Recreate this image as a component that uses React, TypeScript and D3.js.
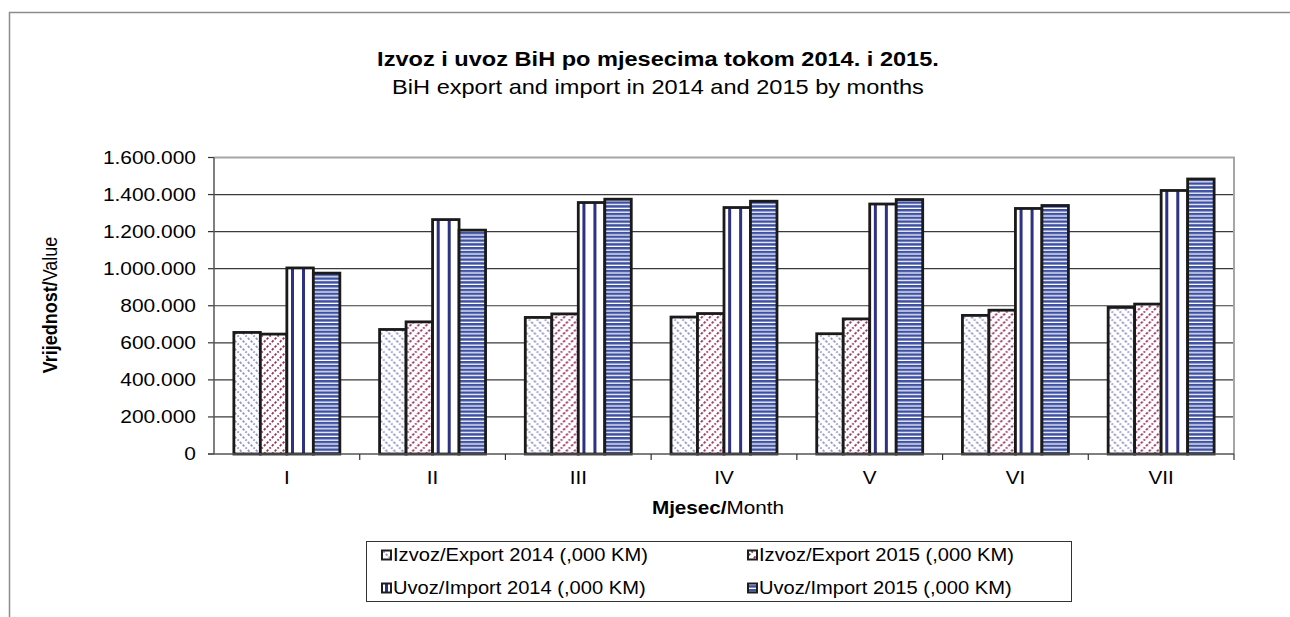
import * as d3 from "d3";

const months = ["I", "II", "III", "IV", "V", "VI", "VII"];
const seriesNames = [
  "Izvoz/Export 2014 (,000 KM)",
  "Izvoz/Export 2015 (,000 KM)",
  "Uvoz/Import 2014 (,000 KM)",
  "Uvoz/Import 2015 (,000 KM)",
];
const export2014 = [656000, 672000, 737000, 739000, 649000, 748000, 791000];
const export2015 = [647000, 713000, 756000, 758000, 729000, 776000, 809000];
const import2014 = [1004000, 1265000, 1357000, 1330000, 1349000, 1325000, 1422000];
const import2015 = [976000, 1208000, 1375000, 1364000, 1373000, 1341000, 1484000];
const yTicks = [0, 200000, 400000, 600000, 800000, 1000000, 1200000, 1400000, 1600000];

const seriesValues = [export2014, export2015, import2014, import2015];
const patternIds = ["pExp14", "pExp15", "pImp14", "pImp15"];

const fmt = d3
  .formatLocale({ decimal: ",", thousands: ".", grouping: [3], currency: ["", ""] })
  .format(",");

const SX = 1.15; // the picture text is stretched a little sideways
const FONT = "'Liberation Sans', Arial, sans-serif";

const W = 1290;
const H = 617;
const margin = { top: 157.5, right: 56, bottom: 163, left: 214 };

function Txt(props: {
  x: number;
  y: number;
  size: number;
  anchor?: string;
  bold?: boolean;
  rotate?: boolean;
  children: any;
}) {
  const { x, y, size, anchor = "middle", bold, rotate, children } = props;
  const t = rotate
    ? `translate(${x},${y}) rotate(-90) scale(1,${SX})`
    : `translate(${x},${y}) scale(${SX},1)`;
  return (
    <text
      transform={t}
      fontFamily={FONT}
      fontSize={size}
      fontWeight={bold ? "bold" : "normal"}
      textAnchor={anchor}
      dominantBaseline="central"
      fill="#000"
    >
      {children}
    </text>
  );
}

export default function App() {
  const x0 = d3
    .scaleBand<string>()
    .domain(months)
    .range([margin.left, W - margin.right]);
  const x1 = d3
    .scaleBand<number>()
    .domain(d3.range(seriesNames.length))
    .range([0, x0.bandwidth()])
    .paddingOuter(0.75);
  const y = d3
    .scaleLinear()
    .domain([0, 1600000])
    .range([H - margin.bottom, margin.top]);

  const x0r = W - margin.right;
  const yb = y(0);

  return (
    <svg
      width={W}
      height={H}
      style={{ position: "absolute", left: 0, top: 0, background: "#fff" }}
    >
      <defs>
        <pattern id="pExp14" width="8" height="8" patternUnits="userSpaceOnUse">
          <rect width="8" height="8" fill="#fff" />
          <path d="M-1,-1 L9,9 M-9,-1 L1,9 M7,-1 L17,9" stroke="#9494cc" strokeWidth="1.8" strokeDasharray="2.4 1.6" />
        </pattern>
        <pattern id="pExp15" width="8" height="8" patternUnits="userSpaceOnUse">
          <rect width="8" height="8" fill="#fff" />
          <path d="M-1,9 L9,-1 M-9,9 L1,-1 M7,9 L17,-1" stroke="#99305f" strokeWidth="1.8" strokeDasharray="2.4 1.6" />
        </pattern>
        <pattern id="pImp14" width="11" height="11" patternUnits="userSpaceOnUse">
          <rect width="11" height="11" fill="#fff" />
          <rect x="0" width="3" height="11" fill="#2e3282" />
        </pattern>
        <pattern id="pImp15" width="4" height="3.8" patternUnits="userSpaceOnUse">
          <rect width="4" height="3.8" fill="#fff" />
          <rect y="0" width="4" height="2.5" fill="#3d50a3" />
        </pattern>
      </defs>

      {/* outer frame */}
      <rect x={9.5} y={12.5} width={1400} height={800} fill="none" stroke="#8c8c8c" strokeWidth={1.5} />

      {/* title */}
      <Txt x={658} y={59} size={20.5} bold>
        Izvoz i uvoz BiH po mjesecima tokom 2014. i 2015.
      </Txt>
      <Txt x={658} y={87} size={20.5}>
        BiH export and import in 2014 and 2015 by months
      </Txt>

      {/* grid */}
      {yTicks.slice(1, -1).map((t) => (
        <line key={t} x1={margin.left} x2={x0r} y1={y(t)} y2={y(t)} stroke="#3a3a3a" strokeWidth={1.2} />
      ))}
      {/* plot border top/right */}
      <path
        d={`M${margin.left},${y(1600000)} H${x0r} V${yb}`}
        fill="none"
        stroke="#a6a6a6"
        strokeWidth={2}
      />

      {/* y ticks */}
      {yTicks.map((t) => (
        <g key={t}>
          <line x1={margin.left - 6} x2={margin.left} y1={y(t)} y2={y(t)} stroke="#333" strokeWidth={1.2} />
          <Txt x={196} y={y(t)} size={18.2} anchor="end">
            {fmt(t)}
          </Txt>
        </g>
      ))}

      {/* bars */}
      {months.map((m, i) => (
        <g key={m} transform={`translate(${x0(m)},0)`}>
          {seriesValues.map((vals, s) => (
            <rect
              key={s}
              x={x1(s)}
              y={y(vals[i])}
              width={x1.bandwidth()}
              height={yb - y(vals[i])}
              fill={`url(#${patternIds[s]})`}
              stroke="#1a1a1a"
              strokeWidth={2.8}
            />
          ))}
        </g>
      ))}

      {/* axes lines */}
      <line x1={margin.left} x2={margin.left} y1={y(1600000)} y2={yb} stroke="#555" strokeWidth={1.5} />
      <line x1={margin.left - 6} x2={x0r} y1={yb} y2={yb} stroke="#555" strokeWidth={1.5} />

      {/* x ticks */}
      {months.map((m) => (
        <line
          key={m}
          x1={(x0(m) as number) + x0.bandwidth()}
          x2={(x0(m) as number) + x0.bandwidth()}
          y1={yb}
          y2={yb + 6}
          stroke="#333"
          strokeWidth={1.2}
        />
      ))}
      {months.map((m) => (
        <Txt key={m} x={(x0(m) as number) + x0.bandwidth() / 2} y={478} size={18}>
          {m}
        </Txt>
      ))}

      {/* axis titles */}
      <Txt x={718} y={508} size={18}>
        <tspan fontWeight="bold">Mjesec/</tspan>Month
      </Txt>
      <Txt x={50} y={305} size={18} rotate>
        <tspan fontWeight="bold">Vrijednost/</tspan>Value
      </Txt>

      {/* legend */}
      <rect x={366.5} y={541.5} width={705} height={60} fill="#fff" stroke="#333" strokeWidth={1} />
      {seriesNames.map((name, s) => {
        const lx = s % 2 === 0 ? 382 : 748;
        const ly = s < 2 ? 555 : 588;
        return (
          <g key={name}>
            <rect x={lx} y={ly - 4.5} width={9} height={9} fill={`url(#${patternIds[s]})`} stroke="#1e1e1e" strokeWidth={2} />
            <Txt x={lx + 11} y={ly} size={17.5} anchor="start">
              {name}
            </Txt>
          </g>
        );
      })}
    </svg>
  );
}
